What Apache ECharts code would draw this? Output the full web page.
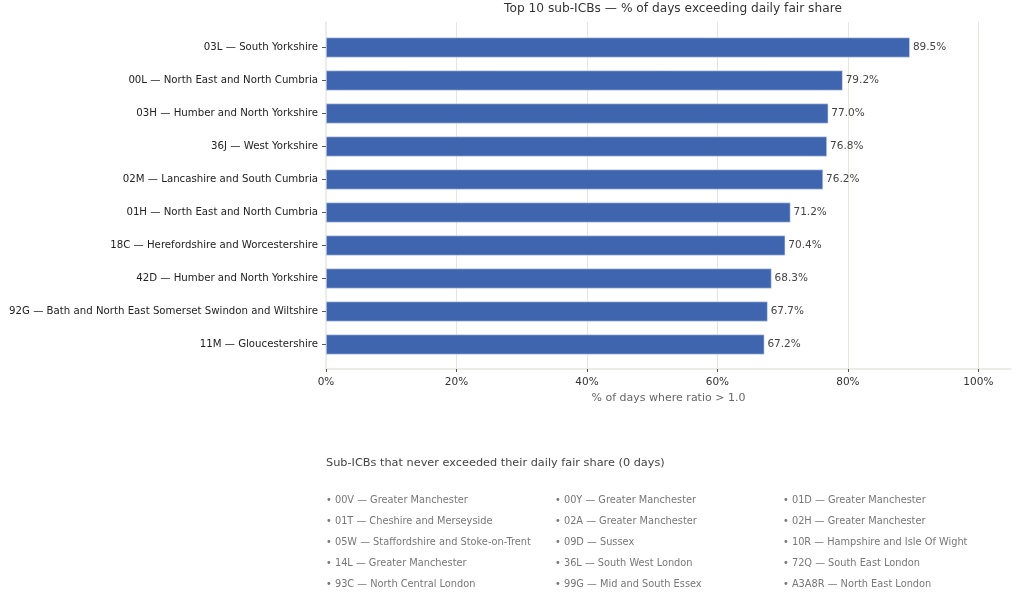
<!DOCTYPE html>
<html>
<head>
<meta charset="utf-8">
<title>Top 10 sub-ICBs</title>
<script src="https://cdn.jsdelivr.net/npm/echarts@6/dist/echarts.min.js"></script>
<style>
  html, body { margin: 0; padding: 0; background: #fff; }
  #chart { width: 1024px; height: 601px; }
</style>
</head>
<body>
<div id="chart"></div>
<script>
// top 10, listed top to bottom
const subIcbs = [
  '03L — South Yorkshire',
  '00L — North East and North Cumbria',
  '03H — Humber and North Yorkshire',
  '36J — West Yorkshire',
  '02M — Lancashire and South Cumbria',
  '01H — North East and North Cumbria',
  '18C — Herefordshire and Worcestershire',
  '42D — Humber and North Yorkshire',
  '92G — Bath and North East Somerset Swindon and Wiltshire',
  '11M — Gloucestershire'
];
const pctDays = [89.5, 79.2, 77.0, 76.8, 76.2, 71.2, 70.4, 68.3, 67.7, 67.2];
const xTicks = [0, 20, 40, 60, 80, 100];

// sub-ICBs with 0 days over fair share, row by row
const neverExceeded = [
  '00V — Greater Manchester', '00Y — Greater Manchester', '01D — Greater Manchester',
  '01T — Cheshire and Merseyside', '02A — Greater Manchester', '02H — Greater Manchester',
  '05W — Staffordshire and Stoke-on-Trent', '09D — Sussex', '10R — Hampshire and Isle Of Wight',
  '14L — Greater Manchester', '36L — South West London', '72Q — South East London',
  '93C — North Central London', '99G — Mid and South Essex', 'A3A8R — North East London'
];

const FONT = '"DejaVu Sans", sans-serif';
const chart = echarts.init(document.getElementById('chart'));

const listText = [];
listText.push({
  type: 'text', left: 326, top: 458,
  style: { text: 'Sub-ICBs that never exceeded their daily fair share (0 days)', fill: '#444', font: '11.3px ' + FONT }
});
const colX = [326, 555, 783];
neverExceeded.forEach((name, i) => {
  listText.push({
    type: 'text', left: colX[i % 3], top: 495 + Math.floor(i / 3) * 21,
    style: { text: '• ' + name, fill: '#777', font: '9.8px ' + FONT }
  });
});

const option = {
  animation: false,
  title: {
    text: 'Top 10 sub-ICBs — % of days exceeding daily fair share',
    left: 668, top: -2, textAlign: 'center',
    textStyle: { fontFamily: FONT, fontSize: 12.2, fontWeight: 'normal', color: '#333' }
  },
  grid: [
    // background grid: full axes frame
    { left: 326, right: 13, top: 22, bottom: 232 },
    // bar grid
    { left: 326, right: 13, top: 31, bottom: 240 }
  ],
  xAxis: [
    {
      gridIndex: 0, type: 'value', min: 0, max: 105, interval: 20,
      name: '% of days where ratio > 1.0', nameLocation: 'middle', nameGap: 23,
      nameTextStyle: { fontFamily: FONT, fontSize: 11, color: '#666' },
      axisLine: { show: true, lineStyle: { color: '#e6e6e0', width: 1.5 } },
      axisTick: { show: true, length: 3, lineStyle: { color: '#555' } },
      axisLabel: {
        showMaxLabel: false, margin: 8, color: '#333', fontFamily: FONT, fontSize: 10.5,
        formatter: v => (xTicks.indexOf(v) >= 0 ? v + '%' : '')
      },
      splitLine: { show: true, showMinLine: false, showMaxLine: false, lineStyle: { color: '#e4e4e0', width: 1 } }
    },
    {
      gridIndex: 1, type: 'value', min: 0, max: 105, show: false
    }
  ],
  yAxis: [
    {
      gridIndex: 0, type: 'value', min: 0, max: 1,
      axisLine: { show: true, lineStyle: { color: '#e6e6e0', width: 1.5 } },
      axisTick: { show: false }, axisLabel: { show: false }, splitLine: { show: false }
    },
    {
      gridIndex: 1, type: 'category', inverse: true, data: subIcbs,
      axisLine: { show: false },
      axisTick: { show: true, alignWithLabel: true, length: 4, lineStyle: { color: '#555' } },
      axisLabel: { margin: 8, color: '#222', fontFamily: FONT, fontSize: 10.2 }
    }
  ],
  series: [{
    type: 'bar', xAxisIndex: 1, yAxisIndex: 1,
    data: pctDays,
    barWidth: 20,
    itemStyle: { color: '#3f65ae', borderColor: '#dbe3f2', borderWidth: 0.6 },
    label: {
      show: true, position: 'right', distance: 3,
      color: '#444', fontFamily: FONT, fontSize: 10.5,
      formatter: p => p.value.toFixed(1) + '%'
    }
  }],
  graphic: listText
};

chart.setOption(option);
</script>
</body>
</html>
